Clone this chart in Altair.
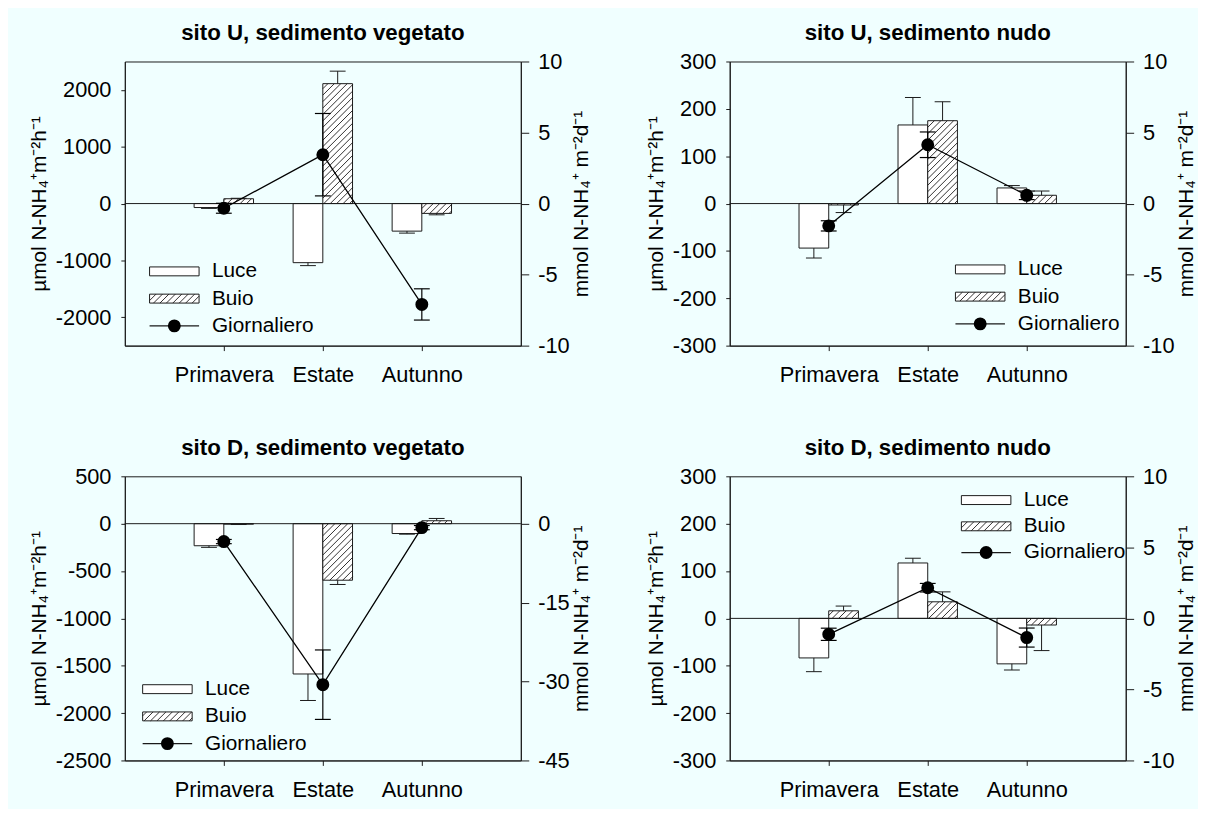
import altair as alt
import pandas as pd
import numpy as np

# ---------------- data ----------------
seasons = ["Primavera", "Estate", "Autunno"]
series = ["Luce", "Buio", "Giornaliero"]
titles = ["sito U, sedimento vegetato", "sito U, sedimento nudo",
          "sito D, sedimento vegetato", "sito D, sedimento nudo"]

# µmol N-NH4+ m-2 h-1 (left axis) ; mmol N-NH4+ m-2 d-1 (right axis)
uv_luce = [-70, -1040, -485]
uv_luce_err = [15, 52, 35]
uv_buio = [85, 2110, -173]
uv_buio_err = [8, 220, 25]
uv_giorn = [-0.33, 3.44, -7.1]
uv_giorn_err = [0.35, 2.9, 1.1]

un_luce = [-94, 166, 33]
un_luce_err = [21, 58, 5]
un_buio = [-3, 175, 17.5]
un_buio_err = [16, 40, 9]
un_giorn = [-1.57, 4.14, 0.58]
un_giorn_err = [0.36, 0.9, 0.3]

dv_luce = [-233, -1587, -104]
dv_luce_err = [17, 280, 7]
dv_buio = [-5, -597, 31]
dv_buio_err = [4, 45, 24]
dv_giorn = [-3.4, -30.6, -0.75]
dv_giorn_err = [0.4, 6.6, 0.4]

dn_luce = [-83.5, 117, -96]
dn_luce_err = [29, 10, 13]
dn_buio = [16, 35, -14]
dn_buio_err = [10, 21, 54]
dn_giorn = [-1.12, 2.16, -1.35]
dn_giorn_err = [0.43, 0.3, 0.67]

# axis domains / tick values
uv_ldom, uv_lticks = [-2500, 2500], [-2000, -1000, 0, 1000, 2000]
uv_rdom, uv_rticks = [-10, 10], [-10, -5, 0, 5, 10]
un_ldom, un_lticks = [-300, 300], [-300, -200, -100, 0, 100, 200, 300]
un_rdom, un_rticks = [-10, 10], [-10, -5, 0, 5, 10]
dv_ldom, dv_lticks = [-2500, 500], [-2500, -2000, -1500, -1000, -500, 0, 500]
dv_rdom, dv_rticks = [-45, 9], [-45, -30, -15, 0]
dn_ldom, dn_lticks = [-300, 300], [-300, -200, -100, 0, 100, 200, 300]
dn_rdom, dn_rticks = [-10, 10], [-10, -5, 0, 5, 10]

LEFT_TITLE = "µmol N-NH₄⁺m⁻²h⁻¹"
RIGHT_TITLE = "mmol N-NH₄⁺ m⁻²d⁻¹"

# ---------------- layout / style ----------------
W, H = 400, 287
XDOM = [0, 4]
BAR_W = 0.3
CAP = 0.08
HATCH_SP = 6.5
FONT = "Liberation Sans"
INK = "#1a1a1a"

# legend: left x of symbol, centre y of first row, row step (pixels inside plot)
legend_pos = [(25, 212, 27.5), (228, 210, 27.5), (18, 215, 27.5), (234, 24, 26.5)]


def hatch_px(X0, X1, Y0, Y1):
    """'/' hatch segments at 45 degrees clipped to a screen rectangle (y down)."""
    rows = []
    for j in range(int(np.floor((X0 + Y0) / HATCH_SP)), int(np.ceil((X1 + Y1) / HATCH_SP)) + 1):
        k = j * HATCH_SP
        Ya, Yb = max(Y0, k - X1), min(Y1, k - X0)
        if Yb - Ya > 0.6:
            rows.append((k - Ya, Ya, k - Yb, Yb))
    return rows


def to_px(x, y, ydom):
    return (x - XDOM[0]) / (XDOM[1] - XDOM[0]) * W, (ydom[1] - y) / (ydom[1] - ydom[0]) * H


def to_data(px, py, ydom):
    return XDOM[0] + px / W * (XDOM[1] - XDOM[0]), ydom[1] - py / H * (ydom[1] - ydom[0])


def hatch_rect_data(xa, xb, ya, yb, ydom):
    X0, Ya_ = to_px(xa, max(ya, yb), ydom)
    X1, Yb_ = to_px(xb, min(ya, yb), ydom)
    out = []
    for (a, b, c, d) in hatch_px(X0, X1, Ya_, Yb_):
        hx, hy = to_data(a, b, ydom)
        hx2, hy2 = to_data(c, d, ydom)
        out.append(dict(hx=hx, hy=hy, hx2=hx2, hy2=hy2))
    return out


label_expr = "[" + ",".join("'%s'" % s for s in seasons) + "][round(datum.value) - 1]"
one = pd.DataFrame({"o": [0]})


def panel(title, luce, luce_err, buio, buio_err, giorn, giorn_err,
          ldom, lticks, rdom, rticks, lpos):
    xs = [1, 2, 3]
    bars = []
    for i, c in enumerate(xs):
        for s, vals, errs, off in ((series[0], luce, luce_err, -BAR_W),
                                   (series[1], buio, buio_err, 0.0)):
            v, e = vals[i], errs[i]
            x0 = c + off
            xm = x0 + BAR_W / 2
            bars.append(dict(series=s, x0=x0, x1=x0 + BAR_W, xm=xm, v=v, base=0.0,
                             end=v + (e if v >= 0 else -e), c0=xm - CAP, c1=xm + CAP))
    bdf = pd.DataFrame(bars)

    lx, ly, dy = lpos
    rows_y = [ly, ly + dy, ly + 2 * dy]

    hrows = []
    for b in bars:
        if b["series"] == series[1]:
            hrows += hatch_rect_data(b["x0"], b["x1"], 0, b["v"], ldom)
    # hatch of the legend swatch, same pattern
    lxa, lya = to_data(lx, rows_y[1] - 4.5, ldom)
    lxb, lyb = to_data(lx + 50, rows_y[1] + 4.5, ldom)
    hrows += hatch_rect_data(lxa, lxb, lyb, lya, ldom)
    hdf = pd.DataFrame(hrows)

    xsc = alt.Scale(domain=XDOM, nice=False, zero=False)
    lsc = alt.Scale(domain=ldom, nice=False, zero=False)
    rsc = alt.Scale(domain=rdom, nice=False, zero=False)
    xaxis = alt.Axis(values=xs, labelExpr=label_expr, title=None, tickSize=5,
                     labelPadding=14, grid=False, domain=True)
    laxis = alt.Axis(values=lticks, labelExpr="'' + datum.value", title=LEFT_TITLE,
                     tickSize=4, labelPadding=10, titlePadding=6, grid=False)
    raxis = alt.Axis(values=rticks, labelExpr="'' + datum.value", title=RIGHT_TITLE,
                     orient="right", tickSize=8, labelPadding=9, titlePadding=2,
                     titleAngle=270, titleBaseline="top", grid=False)

    def X(f):
        return alt.X(f, type="quantitative", scale=xsc, axis=xaxis)

    def YL(f):
        return alt.Y(f, type="quantitative", scale=lsc, axis=laxis)

    def YR(f):
        return alt.Y(f, type="quantitative", scale=rsc, axis=raxis)

    bar = alt.Chart(bdf).mark_rect(fill="white", stroke=INK, strokeWidth=1).encode(
        x=X("x0"), x2="x1", y=YL("v"), y2="base")

    # legend swatches (hand-drawn so that the hatch can be shown)
    leg_sw = []
    for r in rows_y[:2]:
        leg_sw.append(alt.Chart(one).mark_rect(fill="white", stroke=INK, strokeWidth=1).encode(
            x=alt.value(lx), x2=alt.value(lx + 50), y=alt.value(r - 4.5), y2=alt.value(r + 4.5)))

    hatch = alt.Chart(hdf).mark_rule(color=INK, strokeWidth=0.9).encode(
        x=X("hx"), x2="hx2", y=YL("hy"), y2="hy2")
    berr = alt.Chart(bdf).mark_rule(color=INK, strokeWidth=1).encode(
        x=X("xm"), y=YL("v"), y2="end")
    bcap = alt.Chart(bdf).mark_rule(color=INK, strokeWidth=1).encode(
        x=X("c0"), x2="c1", y=YL("end"))
    zero = alt.Chart(pd.DataFrame({"z": [0.0]})).mark_rule(color=INK, strokeWidth=1).encode(
        y=YL("z"))

    leg = []
    leg.append(alt.Chart(one).mark_rule(color=INK, strokeWidth=1.3).encode(
        x=alt.value(lx), x2=alt.value(lx + 50), y=alt.value(rows_y[2])))
    leg.append(alt.Chart(one).mark_circle(size=170, color="black", opacity=1).encode(
        x=alt.value(lx + 25), y=alt.value(rows_y[2])))
    for i, s in enumerate(series):
        leg.append(alt.Chart(one).mark_text(align="left", baseline="middle", font=FONT,
                                            fontSize=21, color="black").encode(
            x=alt.value(lx + 63), y=alt.value(rows_y[i]), text=alt.value(s)))

    gdf = pd.DataFrame({"x": xs, "g": giorn,
                        "lo": [g - e for g, e in zip(giorn, giorn_err)],
                        "hi": [g + e for g, e in zip(giorn, giorn_err)]})
    gdf["c0"] = gdf["x"] - CAP
    gdf["c1"] = gdf["x"] + CAP
    gcap_df = pd.concat([gdf.assign(end=gdf["lo"]), gdf.assign(end=gdf["hi"])])

    gline = alt.Chart(gdf).mark_line(color="black", strokeWidth=1.3).encode(
        x=X("x"), y=YR("g"))
    gerr = alt.Chart(gdf).mark_rule(color="black", strokeWidth=1.2).encode(
        x=X("x"), y=YR("lo"), y2="hi")
    gcap = alt.Chart(gcap_df).mark_rule(color="black", strokeWidth=1.2).encode(
        x=X("c0"), x2="c1", y=YR("end"))
    gpt = alt.Chart(gdf).mark_circle(size=170, color="black", opacity=1).encode(
        x=X("x"), y=YR("g"))

    left = alt.layer(bar, *leg_sw, hatch, berr, bcap, zero, *leg)
    right = alt.layer(gline, gerr, gcap, gpt)
    return alt.layer(left, right).resolve_scale(y="independent").properties(
        width=W, height=H,
        title=alt.TitleParams(title, fontSize=22.5, fontWeight="bold", font=FONT,
                              anchor="middle", offset=6, color="black"))


p1 = panel(titles[0], uv_luce, uv_luce_err, uv_buio, uv_buio_err, uv_giorn, uv_giorn_err,
           uv_ldom, uv_lticks, uv_rdom, uv_rticks, legend_pos[0])
p2 = panel(titles[1], un_luce, un_luce_err, un_buio, un_buio_err, un_giorn, un_giorn_err,
           un_ldom, un_lticks, un_rdom, un_rticks, legend_pos[1])
p3 = panel(titles[2], dv_luce, dv_luce_err, dv_buio, dv_buio_err, dv_giorn, dv_giorn_err,
           dv_ldom, dv_lticks, dv_rdom, dv_rticks, legend_pos[2])
p4 = panel(titles[3], dn_luce, dn_luce_err, dn_buio, dn_buio_err, dn_giorn, dn_giorn_err,
           dn_ldom, dn_lticks, dn_rdom, dn_rticks, legend_pos[3])

chart = alt.concat(p1, p2, p3, p4, columns=2, spacing={"row": 132, "column": 211},
                   bounds="flush",
                   padding={"left": 20, "top": 10, "right": 0, "bottom": 4}).configure(
    background="#F0FFFF").configure_view(stroke=INK, strokeWidth=1).configure_axis(
    labelFont=FONT, labelFontSize=22, labelColor="black", titleFont=FONT,
    titleFontSize=21, titleFontWeight="normal", titleColor="black",
    domainColor=INK, tickColor=INK, grid=False, labelOverlap=False)

chart.save("out.html", embed_options={"renderer": "svg", "actions": False})
